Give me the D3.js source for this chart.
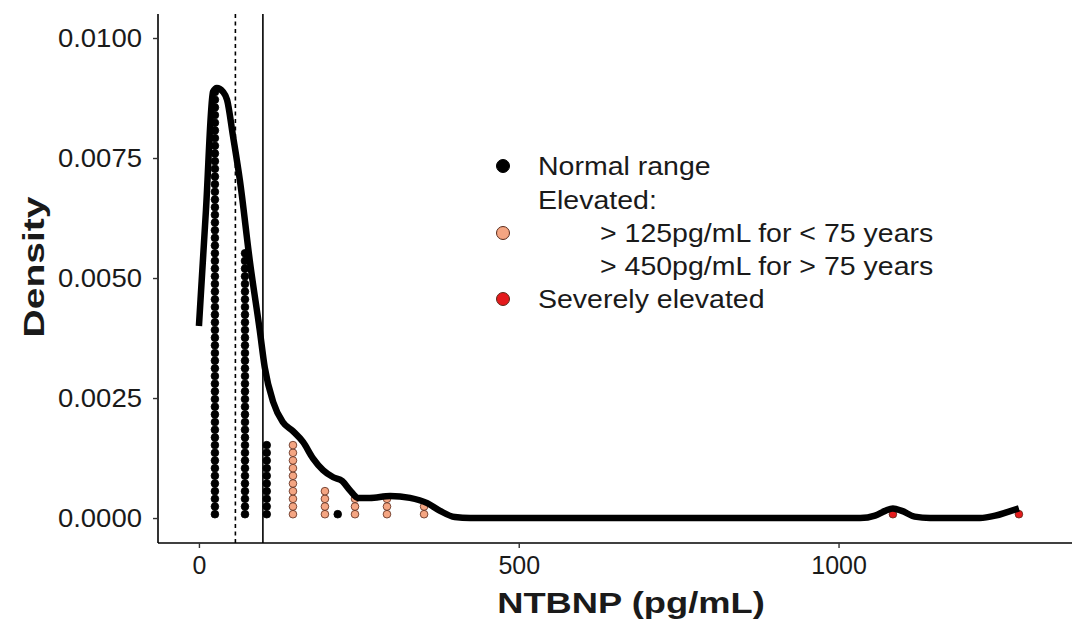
<!DOCTYPE html>
<html>
<head>
<meta charset="utf-8">
<script src="https://cdn.jsdelivr.net/npm/d3@7"></script>
<style>
  body { margin: 0; background: #fff; }
  text { font-family: "Liberation Sans", Arial, sans-serif; fill: #1a1a1a; }
</style>
</head>
<body>
<div id="vis-container"></div>
<script>
// density curve (NTBNP, density)
var curveX = [0, 11, 22, 28, 37.5, 44, 53, 64, 80, 95, 103, 116, 131, 147, 163, 178, 194, 210, 224, 236, 249, 267, 299, 330, 357, 377, 400, 424,
              1034, 1057, 1073, 1085, 1099, 1119, 1143, 1221, 1245, 1265, 1282];
var curveY = [0.00400, 0.00642, 0.00888, 0.00896, 0.00888, 0.00871, 0.00798, 0.00704, 0.00531, 0.00392, 0.00313, 0.00242, 0.00200, 0.00181,
              0.00158, 0.00125, 0.00100, 0.00085, 0.00077, 0.00058, 0.00042, 0.00042, 0.00046, 0.00042, 0.00031, 0.00015, 0.00002, 0,
              0, 0.00005, 0.00015, 0.00020, 0.00015, 0.00003, 0, 0, 0.00005, 0.00013, 0.00020];

// dot stacks: bin centre, number of dots, group
var stackX     = [25, 72, 106, 147, 197, 217, 244, 294, 352, 1085, 1282];
var stackCount = [56, 35, 10, 10, 4, 1, 3, 3, 2, 1, 1];
var stackGroup = ["normal", "normal", "normal", "elevated", "elevated", "normal", "elevated", "elevated", "elevated", "severe", "severe"];
var binwidth = 12;

var medianLine = 57;   // dashed
var cutoffLine = 100;  // solid

var xTicks = [0, 500, 1000];
var yTicks = [0, 0.0025, 0.005, 0.0075, 0.01];

var legendLabels = ["Normal range", "Elevated:", "> 125pg/mL for < 75 years", "> 450pg/mL for > 75 years", "Severely elevated"];

var fills = { normal: "#000000", elevated: "#F4A582", severe: "#E41A1C" };

var width = 1078, height = 621;

var xScale = d3.scaleLinear().domain([-64, 1365]).range([158, 1072]);
var yScale = d3.scaleLinear().domain([-0.00052, 0.0105]).range([543, 14]);

// the original font is wider than Liberation Sans, stretch text a bit
function widen(sel, k) {
  sel.each(function() {
    var w = this.getComputedTextLength();
    d3.select(this).attr("textLength", w * k).attr("lengthAdjust", "spacingAndGlyphs");
  });
}

var svg = d3.select("#vis-container").append("svg")
  .attr("width", width).attr("height", height);

// vertical reference lines
svg.append("line")
  .attr("x1", xScale(medianLine)).attr("x2", xScale(medianLine))
  .attr("y1", 14).attr("y2", 543)
  .attr("stroke", "#000").attr("stroke-width", 1.6)
  .attr("stroke-dasharray", "4,3.5");
svg.append("line")
  .attr("x1", xScale(cutoffLine)).attr("x2", xScale(cutoffLine))
  .attr("y1", 14).attr("y2", 543)
  .attr("stroke", "#000").attr("stroke-width", 1.6);

// dots
var dotD = xScale(binwidth) - xScale(0);
var dots = [];
for (var i = 0; i < stackX.length; i++) {
  for (var j = 0; j < stackCount[i]; j++) {
    dots.push({ x: stackX[i], k: j, g: stackGroup[i] });
  }
}
svg.selectAll(".dot")
  .data(dots)
  .enter()
  .append("circle")
  .attr("class", "dot")
  .attr("cx", function(d) { return xScale(d.x); })
  .attr("cy", function(d) { return yScale(0) - dotD / 2 - d.k * dotD; })
  .attr("r", dotD / 2)
  .attr("fill", function(d) { return fills[d.g]; })
  .attr("stroke", function(d) { return d.g == "normal" ? "#000" : "#5a2a1a"; })
  .attr("stroke-width", 0.8);

// density line
var line = d3.line()
  .x(function(d, i) { return xScale(curveX[i]); })
  .y(function(d, i) { return yScale(curveY[i]); })
  .curve(d3.curveMonotoneX);
svg.append("path")
  .datum(curveX)
  .attr("d", line)
  .attr("fill", "none")
  .attr("stroke", "#000")
  .attr("stroke-width", 6.5)
  .attr("stroke-linejoin", "round");

// axes
var xAxis = d3.axisBottom(xScale).tickValues(xTicks).tickSize(5).tickPadding(8)
  .tickFormat(function(d) { return d; });
var gx = svg.append("g").attr("transform", "translate(0,543)").call(xAxis);
gx.select(".domain").attr("d", "M158,0H1072").attr("stroke-width", 1.6);
gx.selectAll(".tick line").attr("stroke", "#333").attr("stroke-width", 1.4);
gx.selectAll(".tick text").style("font-size", "25px").attr("fill", "#1a1a1a");

var yAxis = d3.axisLeft(yScale).tickValues(yTicks).tickSize(5).tickPadding(11)
  .tickFormat(d3.format(".4f"));
var gy = svg.append("g").attr("transform", "translate(158,0)").call(yAxis);
gy.select(".domain").attr("d", "M0,14V543").attr("stroke-width", 1.6);
gy.selectAll(".tick line").attr("stroke", "#333").attr("stroke-width", 1.4);
gy.selectAll(".tick text").style("font-size", "25px").attr("fill", "#1a1a1a");
widen(gy.selectAll(".tick text"), 1.1);

// axis titles
var xt = svg.append("text")
  .attr("x", 631).attr("y", 613)
  .style("text-anchor", "middle").style("font-size", "30px").style("font-weight", "bold")
  .text("NTBNP (pg/mL)");
widen(xt, 1.21);
var yt = svg.append("text")
  .attr("transform", "translate(44,267) rotate(-90)")
  .style("text-anchor", "middle").style("font-size", "30px").style("font-weight", "bold")
  .text("Density");
widen(yt, 1.3);

// legend
var legendY = [166, 200, 233, 266, 299];
var legendX = [538, 538, 600, 600, 538];
var legendDots = [{ y: 166, g: "normal" }, { y: 233, g: "elevated" }, { y: 299, g: "severe" }];
svg.selectAll(".legdot")
  .data(legendDots)
  .enter()
  .append("circle")
  .attr("cx", 503)
  .attr("cy", function(d) { return d.y; })
  .attr("r", 6.5)
  .attr("fill", function(d) { return fills[d.g]; })
  .attr("stroke", function(d) { return d.g == "normal" ? "#000" : "#5a2a1a"; })
  .attr("stroke-width", 1);
var lt = svg.selectAll(".legtext")
  .data(legendLabels)
  .enter()
  .append("text")
  .attr("x", function(d, i) { return legendX[i]; })
  .attr("y", function(d, i) { return legendY[i]; })
  .attr("dy", "0.35em")
  .style("font-size", "25px")
  .text(function(d) { return d; });
widen(lt, 1.14);
</script>
</body>
</html>
